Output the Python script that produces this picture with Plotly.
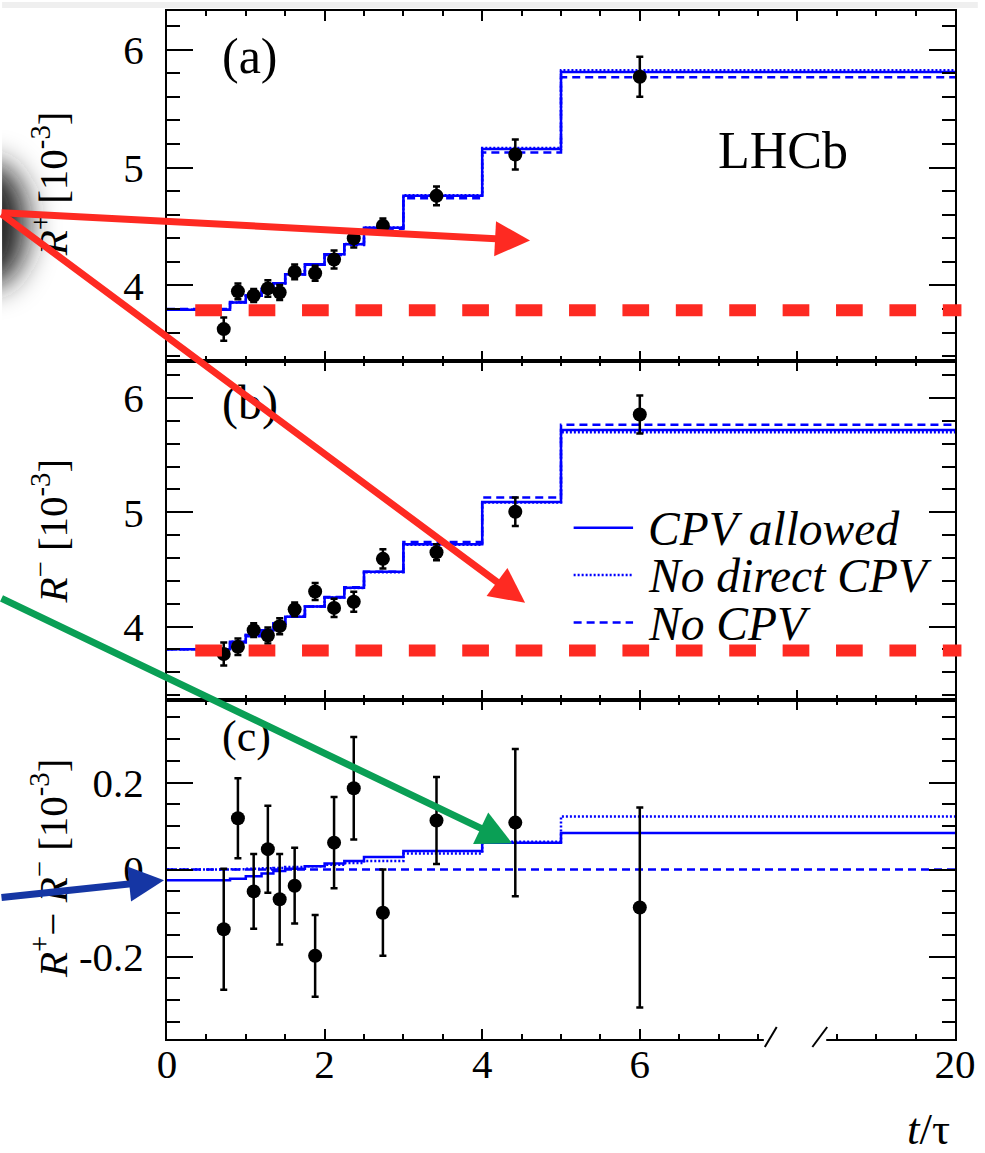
import base64
import numpy as np
import plotly.graph_objects as go

# ---------------- data ----------------
# Decay-time bin edges (t/tau); the last bin runs out to 20
BIN_EDGES_T = [0.0, 0.8, 1.0, 1.2, 1.35, 1.5, 1.75, 2.0, 2.25, 2.5, 3.0, 4.0, 5.0, 20.0]

# Measured points (mean t/tau of each bin)
POINT_T = [0.72, 0.90, 1.10, 1.28, 1.43, 1.62, 1.88, 2.12, 2.37, 2.74, 3.42, 4.42, 6.0]
R_PLUS = [3.63, 3.95, 3.915, 3.975, 3.94, 4.115, 4.104, 4.22, 4.40, 4.507, 4.76, 5.11, 5.77]
R_PLUS_ERR = [0.099, 0.066, 0.056, 0.07, 0.063, 0.063, 0.063, 0.077, 0.077, 0.06, 0.08, 0.127, 0.17]
R_MINUS = [3.759, 3.823, 3.968, 3.921, 4.003, 4.15, 4.306, 4.163, 4.217, 4.592, 4.65, 5.004, 5.855]
R_MINUS_ERR = [0.10, 0.073, 0.06, 0.07, 0.07, 0.06, 0.074, 0.08, 0.087, 0.084, 0.07, 0.124, 0.167]
R_DIFF = [-0.137, 0.118, -0.05, 0.047, -0.068, -0.037, -0.198, 0.062, 0.187, -0.099, 0.113, 0.108, -0.087]
R_DIFF_ERR = [0.139, 0.092, 0.086, 0.10, 0.104, 0.087, 0.094, 0.105, 0.118, 0.099, 0.10, 0.169, 0.23]

# Fit projections per bin
FIT_PLUS_CPV = [3.794, 3.856, 3.913, 3.972, 4.019, 4.096, 4.18, 4.265, 4.35, 4.49, 4.76, 5.157, 5.81]
FIT_PLUS_NODIRECT = [3.794, 3.856, 3.913, 3.972, 4.019, 4.096, 4.18, 4.265, 4.352, 4.492, 4.765, 5.165, 5.825]
FIT_MINUS_CPV = [3.80, 3.866, 3.925, 3.968, 4.026, 4.085, 4.175, 4.253, 4.34, 4.48, 4.72, 5.09, 5.72]
FIT_MINUS_NODIRECT = [3.80, 3.866, 3.925, 3.968, 4.026, 4.085, 4.175, 4.253, 4.338, 4.475, 4.715, 5.085, 5.70]
FIT_NOCPV = [3.80, 3.86, 3.915, 3.972, 4.018, 4.093, 4.175, 4.258, 4.343, 4.48, 4.74, 5.128, 5.765]
FIT_DIFF_CPV = [-0.0245, -0.021, -0.0154, -0.009, -0.003, 0.002, 0.0076, 0.0138, 0.0198, 0.029, 0.043, 0.062, 0.084]
FIT_DIFF_NODIRECT = [0.0, 0.001, 0.002, 0.003, 0.004, 0.006, 0.008, 0.011, 0.015, 0.02, 0.037, 0.064, 0.122]
FIT_DIFF_NOCPV = [0.0] * 13

REF_LEVEL = 3.79   # level of the t = 0 ratio, marked in (a) and (b)

X_TICK_T = [0, 2, 4, 6, 20]
X_TICK_TEXT = ["0", "2", "4", "6", "20"]
LEGEND_NAMES = ["CPV allowed", "No direct CPV", "No CPV"]

# ---------------- geometry / style ----------------
W, H = 985, 1153
FL, FR, FT, FB = 166.5, 962.0, 9.0, 1039.0     # frame in pixels
SPLIT_AB, SPLIT_BC = 360.0, 699.5

BREAK_AT = 7.65   # axis is linear up to here, then jumps
X_GAP = 10.0      # span of t removed by the axis break


def axis_pos(t):
    return t if t <= BREAK_AT else t - X_GAP


def px_x(px):
    return (px - FL) / (FR - FL)


def px_y(py):
    return (FB - py) / (FB - FT)


SERIF = "Liberation Serif, Times New Roman, Times, serif"
BLUE = "#0000ff"
RED = "#fe2a22"
GREEN = "#0a9f55"
DKBLUE = "#1536a4"
DOT = "2px,2px"
DASH = "8px,5px"

fig = go.Figure()

edges_x = [axis_pos(e) for e in BIN_EDGES_T]
pts_x = [axis_pos(t) for t in POINT_T]


def step_trace(vals, dash, xa, ya):
    return go.Scatter(x=edges_x, y=list(vals) + [vals[-1]], mode="lines",
                      line=dict(color=BLUE, width=2.5, dash=dash, shape="hv"),
                      xaxis=xa, yaxis=ya, hoverinfo="skip", showlegend=False)


def point_trace(vals, errs, xa, ya):
    return go.Scatter(x=pts_x, y=vals, mode="markers",
                      marker=dict(color="black", size=14),
                      error_y=dict(type="data", array=errs, color="black",
                                   thickness=2.5, width=3.5),
                      xaxis=xa, yaxis=ya, showlegend=False)


panels = [
    ("x", "y", FIT_PLUS_NODIRECT, FIT_NOCPV, FIT_PLUS_CPV, R_PLUS, R_PLUS_ERR),
    ("x2", "y2", FIT_MINUS_NODIRECT, FIT_NOCPV, FIT_MINUS_CPV, R_MINUS, R_MINUS_ERR),
    ("x3", "y3", FIT_DIFF_NODIRECT, FIT_DIFF_NOCPV, FIT_DIFF_CPV, R_DIFF, R_DIFF_ERR),
]
for xa, ya, nodir, nocpv, cpv, pts, errs in panels:
    fig.add_trace(step_trace(nodir, DOT, xa, ya))
    fig.add_trace(step_trace(nocpv, DASH, xa, ya))
    fig.add_trace(step_trace(cpv, "solid", xa, ya))
    fig.add_trace(point_trace(pts, errs, xa, ya))

# ---------------- axes ----------------
x_major = [0, 2, 4, 6, 8, 10]
x_minor = [round(v, 2) for v in np.arange(0.5, 10.0, 0.5) if abs(v % 2) > 1e-9]
tick_text_map = {axis_pos(t): s for t, s in zip(X_TICK_T, X_TICK_TEXT)}
x_text = [tick_text_map.get(v, " ") for v in x_major]

common_x = dict(range=[0, 10], showline=True, linecolor="black", linewidth=2,
                mirror="allticks", ticks="inside", ticklen=10, tickwidth=2,
                tickcolor="black", tickmode="array", tickvals=x_major,
                ticktext=x_text, showgrid=False, zeroline=False,
                minor=dict(ticks="inside", ticklen=5, tickwidth=2, tickcolor="black",
                           tickmode="array", tickvals=x_minor, showgrid=False),
                tickfont=dict(family=SERIF, size=41, color="black"),
                ticklabelstandoff=-12)

fig.update_layout(
    xaxis=dict(common_x, anchor="y", showticklabels=False),
    xaxis2=dict(common_x, anchor="y2", showticklabels=False, matches="x"),
    xaxis3=dict(common_x, anchor="y3", showticklabels=True, matches="x"),
)

common_y = dict(showline=True, linecolor="black", linewidth=2, mirror="allticks",
                ticks="inside", ticklen=26, tickwidth=2, tickcolor="black",
                showgrid=False, zeroline=False,
                tickfont=dict(family=SERIF, size=41, color="black"),
                ticklabelstandoff=13)


def minor_vals(lo, hi, step):
    return [round(v, 3) for v in np.arange(lo, hi + 1e-9, step)]


fig.update_layout(
    yaxis=dict(common_y, anchor="x", domain=[px_y(SPLIT_AB), 1.0],
               range=[3.357, 6.327], tickmode="array", tickvals=[4, 5, 6],
               ticktext=["4", "5", "6"],
               minor=dict(ticks="inside", ticklen=13, tickwidth=2, tickcolor="black",
                          tickmode="array", tickvals=minor_vals(3.4, 6.2, 0.2))),
    yaxis2=dict(common_y, anchor="x2", domain=[px_y(SPLIT_BC), px_y(SPLIT_AB)],
                range=[3.3555, 6.3205], tickmode="array", tickvals=[4, 5, 6],
                ticktext=["4", "5", "6"],
                minor=dict(ticks="inside", ticklen=13, tickwidth=2, tickcolor="black",
                           tickmode="array", tickvals=minor_vals(3.4, 6.2, 0.2))),
    yaxis3=dict(common_y, anchor="x3", domain=[0.0, px_y(SPLIT_BC)],
                range=[-0.3892, 0.3894], tickmode="array", tickvals=[-0.2, 0, 0.2],
                ticktext=["-0.2", "0", "0.2"],
                minor=dict(ticks="inside", ticklen=13, tickwidth=2, tickcolor="black",
                           tickmode="array", tickvals=minor_vals(-0.35, 0.35, 0.05))),
)

# ---------------- shapes ----------------
shapes = []
# faint strip along the top edge
shapes.append(dict(type="rect", xref="paper", yref="paper", x0=px_x(0), x1=px_x(W),
                   y0=px_y(0), y1=px_y(6), fillcolor="#efefef", line=dict(width=0),
                   layer="above"))
# reference level, thick red dashes
for yref in ("y", "y2"):
    shapes.append(dict(type="line", xref="paper", yref=yref, x0=px_x(195), x1=px_x(968.5),
                       y0=REF_LEVEL, y1=REF_LEVEL,
                       line=dict(color=RED, width=12, dash="26.7px,26.7px"), layer="above"))
# legend samples
leg_y = [526.7, 574.0, 621.7]
leg_dash = ["solid", DOT, DASH]
for yy, dd in zip(leg_y, leg_dash):
    shapes.append(dict(type="line", xref="paper", yref="paper", x0=px_x(577), x1=px_x(637),
                       y0=px_y(yy), y1=px_y(yy), line=dict(color=BLUE, width=2.5, dash=dd),
                       layer="above"))
# axis break on the bottom axis
shapes.append(dict(type="rect", xref="paper", yref="paper", x0=px_x(769), x1=px_x(832),
                   y0=px_y(1044), y1=px_y(1026), fillcolor="white", line=dict(width=0),
                   layer="above"))
for x0, x1 in ((770, 782), (818, 833)):
    shapes.append(dict(type="line", xref="paper", yref="paper", x0=px_x(x0), x1=px_x(x1),
                       y0=px_y(1047), y1=px_y(1027), line=dict(color="black", width=2),
                       layer="above"))
fig.update_layout(shapes=shapes)

# ---------------- soft dark spot at the left edge ----------------
spot_svg = (
    '<svg xmlns="http://www.w3.org/2000/svg" width="160" height="320" viewBox="0 0 160 320">'
    '<defs><filter id="f" x="-200%" y="-100%" width="400%" height="300%">'
    '<feGaussianBlur stdDeviation="15"/></filter></defs>'
    '<ellipse cx="-12" cy="128" rx="38" ry="62" fill="#222222" filter="url(#f)"/>'
    '</svg>'
)
spot_src = "data:image/svg+xml;base64," + base64.b64encode(spot_svg.encode()).decode()
fig.add_layout_image(dict(source=spot_src, xref="paper", yref="paper",
                          x=px_x(0), y=px_y(95), sizex=160 / (FR - FL), sizey=320 / (FB - FT),
                          xanchor="left", yanchor="top", sizing="stretch", layer="above"))

# ---------------- text ----------------
ann = []


def text(s, x, y, size, xanchor="left", yanchor="middle", angle=0):
    ann.append(dict(text=s, x=px_x(x), y=px_y(y), xref="paper", yref="paper",
                    showarrow=False, xanchor=xanchor, yanchor=yanchor, textangle=angle,
                    font=dict(family=SERIF, size=size, color="black")))


text("(a)", 220, 54, 50)
text("(b)", 220, 402, 48)
text("(c)", 220, 736, 44)
text("LHCb", 788, 149, 52, xanchor="center")
for name, yy in zip(LEGEND_NAMES, leg_y):
    text("<i>" + name + "</i>", 650, yy + 1, 47.5)
text("<i>R</i><sup>+</sup> [10<sup>-3</sup>]", 48, 182, 41, xanchor="center", angle=-90)
text("<i>R</i><sup>\u2212</sup> [10<sup>-3</sup>]", 48, 530, 41, xanchor="center", angle=-90)
text("<i>R</i><sup>+</sup>\u2212 <i>R</i><sup>\u2212</sup> [10<sup>-3</sup>]", 48, 868, 41,
     xanchor="center", angle=-90)
text("<i>t</i>/\u03c4", 959, 1129, 45, xanchor="right")

# ---------------- arrows ----------------


def arrow(tail, tip, color):
    ann.append(dict(text="", x=px_x(tip[0]), y=px_y(tip[1]), xref="paper", yref="paper",
                    ax=tail[0] - tip[0], ay=tail[1] - tip[1], axref="pixel", ayref="pixel",
                    showarrow=True, arrowhead=2, arrowsize=1, arrowwidth=7,
                    arrowcolor=color, standoff=0))


arrow((-6, 211), (533, 239), RED)
arrow((-6, 212), (528, 602), RED)
arrow((-6, 597.2), (515, 843), GREEN)
arrow((-6, 897.3), (163.5, 880), DKBLUE)

fig.update_layout(
    annotations=ann,
    width=W, height=H,
    margin=dict(l=FL, r=W - FR, t=FT, b=H - FB, pad=0),
    paper_bgcolor="white", plot_bgcolor="white",
    showlegend=False,
    font=dict(family=SERIF, color="black"),
)

fig.write_html("out.html")
